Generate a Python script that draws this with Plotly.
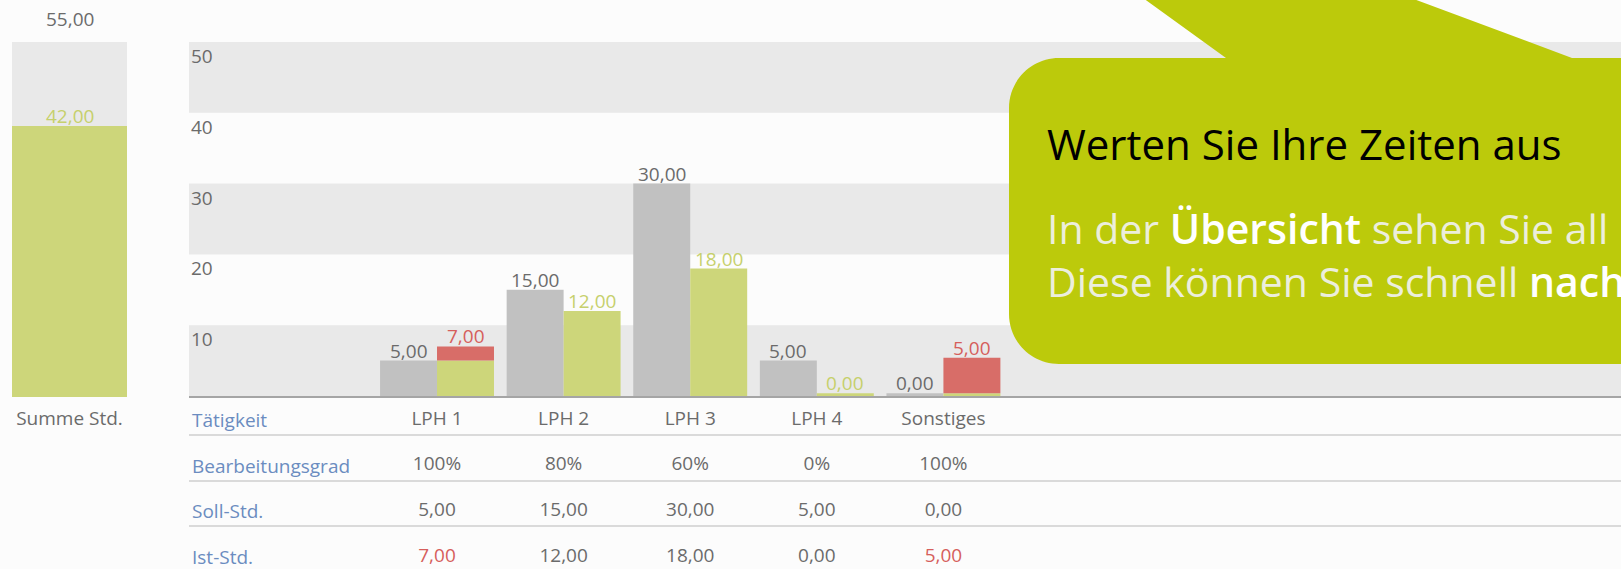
import plotly.graph_objects as go

W, H = 1621, 569

# ---------------- data ----------------
categories = ["LPH 1", "LPH 2", "LPH 3", "LPH 4", "Sonstiges"]
soll_std = [5, 15, 30, 5, 0]
ist_std = [7, 12, 18, 0, 5]
bearbeitungsgrad = [100, 80, 60, 0, 100]
row_labels = ["Tätigkeit", "Bearbeitungsgrad", "Soll-Std.", "Ist-Std."]
y_tick_values = [10, 20, 30, 40, 50]
summary_label = "Summe Std."

title_text = "Werten Sie Ihre Zeiten aus"
body_text = ("In der <span style='font-weight:600;fill:#ffffff'>Übersicht</span> sehen Sie all"
             "<br>Diese können Sie schnell <span style='font-weight:600;fill:#ffffff'>nach</span>")

# ---------------- styles ----------------
FONT = "Open Sans"
GRAY_BAR = "#c1c1c1"
GREEN = "#cdd67a"
RED = "#d86d68"
BAND = "#e9e9e9"
LABEL_GRAY = "#6b6b6b"
LABEL_GREEN = "#c6d06c"
LABEL_RED = "#d65f5c"
BLUE = "#6b8cc0"
CALLOUT = "#bcca0b"
BG = "#fcfcfc"
FS = 19
MIN_VIS = 0.4  # minimal visible bar height (zero bars drawn as thin line)
BW = 0.45      # bar width in category units
LBL_SHIFT = 10  # px between bar top and label centre


def fmt(v):
    return f"{v:.2f}".replace(".", ",")


def px_x(p):
    return p / W


def px_y(p):
    return 1 - p / H


x_pos = list(range(len(categories)))
sum_soll = sum(soll_std)
sum_ist = sum(ist_std)

soll_disp = [max(v, MIN_VIS) for v in soll_std]
green_val = [min(i, s) for i, s in zip(ist_std, soll_std)]
green_disp = [max(v, MIN_VIS) for v in green_val]
red_val = [max(i - s, 0) for i, s in zip(ist_std, soll_std)]
over = [i > s for i, s in zip(ist_std, soll_std)]
ist_top = [g + r for g, r in zip(green_disp, red_val)]

fig = go.Figure()

# ---- summary bar ----
fig.add_trace(go.Bar(x=[0], y=[sum_soll], width=1, marker=dict(color=BAND, line_width=0),
                     xaxis="x", yaxis="y", hoverinfo="skip"))
fig.add_trace(go.Bar(x=[0], y=[sum_ist], width=1, marker=dict(color=GREEN, line_width=0),
                     xaxis="x", yaxis="y", hoverinfo="skip"))

# ---- main bars ----
fig.add_trace(go.Bar(x=x_pos, y=soll_disp, offset=-BW, width=BW,
                     marker=dict(color=GRAY_BAR, line_width=0),
                     xaxis="x2", yaxis="y2", hoverinfo="skip"))
fig.add_trace(go.Bar(x=x_pos, y=green_disp, offset=0, width=BW,
                     marker=dict(color=GREEN, line_width=0),
                     xaxis="x2", yaxis="y2", hoverinfo="skip"))
fig.add_trace(go.Bar(x=x_pos, y=red_val, base=green_disp, offset=0, width=BW,
                     marker=dict(color=RED, line_width=0),
                     xaxis="x2", yaxis="y2", hoverinfo="skip"))

# ---- table ----
tx, ty, tt, tc = [], [], [], []
for j, c in enumerate(categories):
    rows = [
        (c, LABEL_GRAY),
        (f"{bearbeitungsgrad[j]}%", LABEL_GRAY),
        (fmt(soll_std[j]), LABEL_GRAY),
        (fmt(ist_std[j]), LABEL_RED if over[j] else LABEL_GRAY),
    ]
    for r, (t, col) in enumerate(rows):
        tx.append(x_pos[j])
        ty.append(r)
        tt.append(t)
        tc.append(col)
fig.add_trace(go.Scatter(x=tx, y=ty, mode="text", text=tt,
                         textfont=dict(size=FS, color=tc, family=FONT),
                         cliponaxis=False, xaxis="x3", yaxis="y3", hoverinfo="skip"))

# ---- shapes ----
shapes = []
edges = [0] + y_tick_values
for k in range(0, len(edges) - 1, 2):
    shapes.append(dict(type="rect", xref="x2 domain", x0=0, x1=1, yref="y2",
                       y0=edges[k], y1=edges[k + 1], fillcolor=BAND, line_width=0, layer="below"))

# callout bubble (pixel geometry -> paper)
L, T, B, R = 1009, 58, 364, 1621
rad = 50
kk = 0.5523 * rad


def P(x, y):
    return f"{px_x(x):.5f},{px_y(y):.5f}"


path = (f"M {P(L + rad, T)} L {P(1226, T)} L {P(1143, -2)} L {P(1411, -2)} L {P(1572, T)} "
        f"L {P(R + 5, T)} L {P(R + 5, B)} L {P(L + rad, B)} "
        f"C {P(L + rad - kk, B)} {P(L, B - rad + kk)} {P(L, B - rad)} "
        f"L {P(L, T + rad)} C {P(L, T + rad - kk)} {P(L + rad - kk, T)} {P(L + rad, T)} Z")
shapes.append(dict(type="path", xref="paper", yref="paper", path=path,
                   fillcolor=CALLOUT, line_width=0, layer="above"))

# ---- annotations ----
annotations = [
    dict(x=0, y=sum_soll, xref="x", yref="y", text=fmt(sum_soll), showarrow=False,
         yanchor="middle", yshift=23, font=dict(size=FS, color=LABEL_GRAY, family=FONT)),
    dict(x=0, y=sum_ist, xref="x", yref="y", text=fmt(sum_ist), showarrow=False,
         yanchor="middle", yshift=LBL_SHIFT, font=dict(size=FS, color=LABEL_GREEN, family=FONT)),
]
# y tick labels (inside, just below each gridline)
for v in y_tick_values:
    annotations.append(dict(x=0, y=v, xref="x2 domain", yref="y2", text=str(v), showarrow=False,
                            xanchor="left", yanchor="top", xshift=0, yshift=1,
                            font=dict(size=FS, color=LABEL_GRAY, family=FONT)))
# bar value labels
for j in range(len(categories)):
    annotations.append(dict(x=x_pos[j] - BW / 2, y=soll_disp[j], xref="x2", yref="y2",
                            text=fmt(soll_std[j]), showarrow=False, yanchor="middle",
                            yshift=LBL_SHIFT, font=dict(size=FS, color=LABEL_GRAY, family=FONT)))
    annotations.append(dict(x=x_pos[j] + BW / 2, y=ist_top[j], xref="x2", yref="y2",
                            text=fmt(ist_std[j]), showarrow=False, yanchor="middle",
                            yshift=LBL_SHIFT,
                            font=dict(size=FS, color=LABEL_RED if over[j] else LABEL_GREEN,
                                      family=FONT)))
# table row labels
for r, lab in enumerate(row_labels):
    annotations.append(dict(x=0, y=r, xref="x3 domain", yref="y3", text=lab, showarrow=False,
                            xanchor="left", yanchor="middle", xshift=1,
                            font=dict(size=FS, color=BLUE, family=FONT)))
# callout texts
annotations += [
    dict(x=px_x(1045), y=px_y(144), xref="paper", yref="paper", text=title_text,
         showarrow=False, xanchor="left", yanchor="middle",
         font=dict(size=42, color="#000000", family=FONT)),
    dict(x=px_x(1045), y=px_y(254), xref="paper", yref="paper", text=body_text,
         showarrow=False, xanchor="left", yanchor="middle", align="left",
         font=dict(size=41, color="#eceedc", family=FONT)),
]

ROW_UNIT = 45.7
fig.update_layout(
    width=W, height=H, margin=dict(l=0, r=0, t=0, b=0),
    paper_bgcolor=BG, plot_bgcolor="rgba(0,0,0,0)",
    showlegend=False, barmode="overlay",
    font=dict(family=FONT, size=FS, color=LABEL_GRAY),
    shapes=shapes, annotations=annotations,
    xaxis=dict(domain=[px_x(12), px_x(127)], range=[-0.5, 0.5], tickvals=[0],
               ticktext=[summary_label], showgrid=False, zeroline=False, showline=False,
               ticks="", ticklabelstandoff=8, tickfont=dict(size=FS, color=LABEL_GRAY),
               anchor="y", fixedrange=True),
    yaxis=dict(domain=[px_y(397), px_y(42)], range=[0, sum_soll], visible=False, anchor="x"),
    xaxis2=dict(domain=[px_x(189), 1], range=[-1.959, 9.352], showticklabels=False,
                showgrid=False, zeroline=False, showline=True, linecolor="#a5a5a5",
                linewidth=2, ticks="", anchor="y2"),
    yaxis2=dict(domain=[px_y(396), px_y(42)], range=[0, 50], showticklabels=False,
                showgrid=False, zeroline=False, showline=False, ticks="", anchor="x2"),
    xaxis3=dict(domain=[px_x(189), 1], matches="x2", visible=False, anchor="y3"),
    yaxis3=dict(domain=[0, px_y(397)], range=[(569 - 420) / ROW_UNIT, -(420 - 397) / ROW_UNIT],
                tickvals=[r + 0.33 for r in range(len(row_labels))], showticklabels=False,
                showgrid=True, gridcolor="#dadada", gridwidth=1.5, zeroline=False,
                showline=False, ticks="", anchor="x3"),
)

fig.write_html("out.html")
